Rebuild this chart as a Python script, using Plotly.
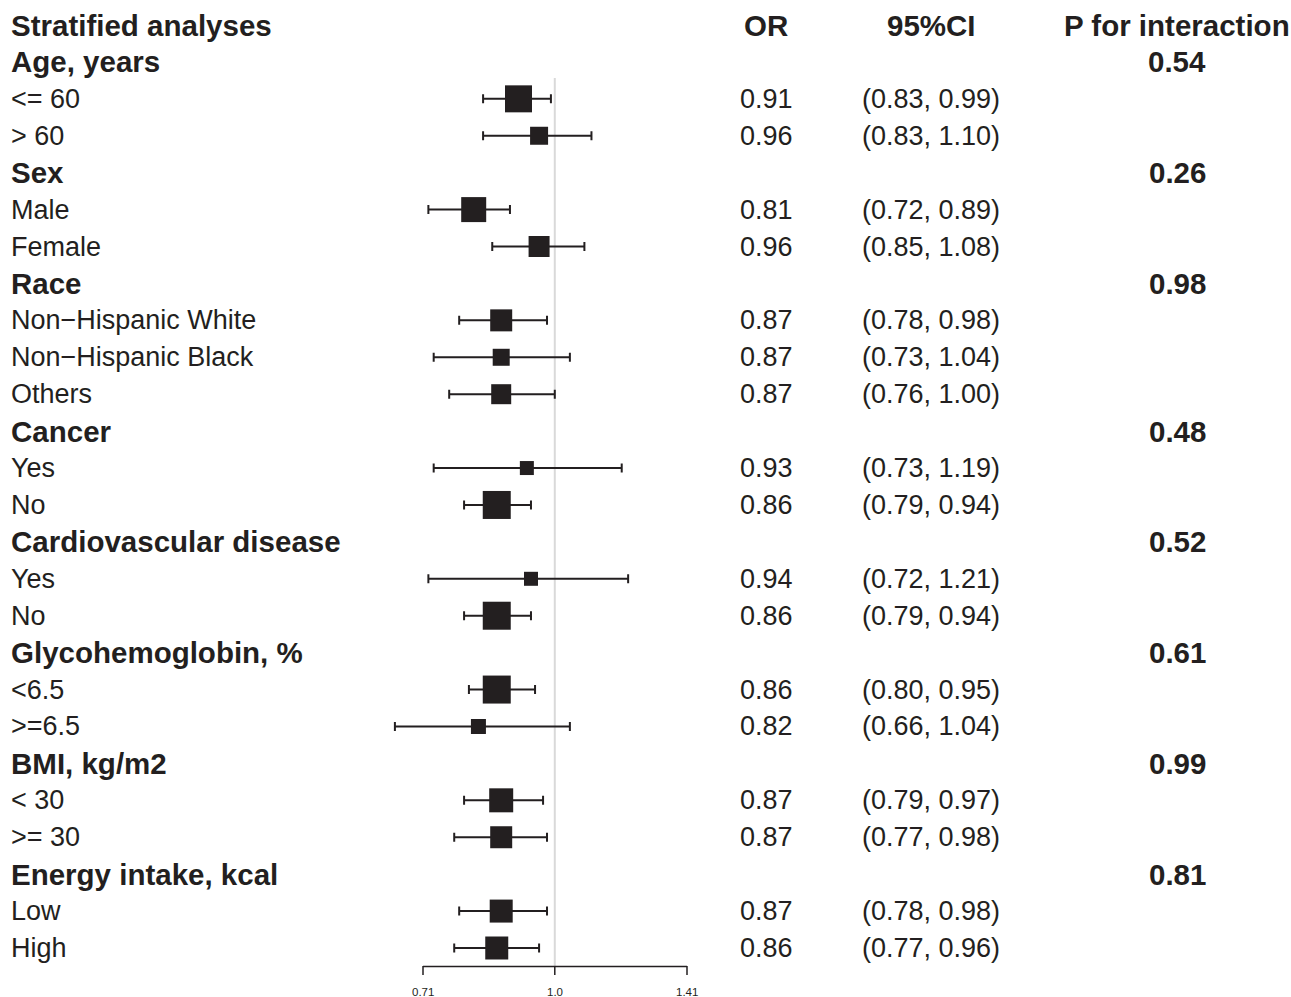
import math
import plotly.graph_objects as go

# ---------------- data ----------------
labels = ["Age, years", "<= 60", "> 60",
          "Sex", "Male", "Female",
          "Race", "Non\u2212Hispanic White", "Non\u2212Hispanic Black", "Others",
          "Cancer", "Yes", "No",
          "Cardiovascular disease", "Yes", "No",
          "Glycohemoglobin, %", "<6.5", ">=6.5",
          "BMI, kg/m2", "< 30", ">= 30",
          "Energy intake, kcal", "Low", "High"]
is_header = [True, False, False,
             True, False, False,
             True, False, False, False,
             True, False, False,
             True, False, False,
             True, False, False,
             True, False, False,
             True, False, False]
or_vals = [None, 0.91, 0.96,
           None, 0.81, 0.96,
           None, 0.87, 0.87, 0.87,
           None, 0.93, 0.86,
           None, 0.94, 0.86,
           None, 0.86, 0.82,
           None, 0.87, 0.87,
           None, 0.87, 0.86]
ci_low = [None, 0.83, 0.83,
          None, 0.72, 0.85,
          None, 0.78, 0.73, 0.76,
          None, 0.73, 0.79,
          None, 0.72, 0.79,
          None, 0.80, 0.66,
          None, 0.79, 0.77,
          None, 0.78, 0.77]
ci_high = [None, 0.99, 1.10,
           None, 0.89, 1.08,
           None, 0.98, 1.04, 1.00,
           None, 1.19, 0.94,
           None, 1.21, 0.94,
           None, 0.95, 1.04,
           None, 0.97, 0.98,
           None, 0.98, 0.96]
weights = [None, 27, 18,
           None, 25, 21,
           None, 22, 17, 20,
           None, 14, 28,
           None, 14, 28,
           None, 28, 15,
           None, 24, 22,
           None, 23, 23]
p_interaction = ["0.54", None, None,
                 "0.26", None, None,
                 "0.98", None, None, None,
                 "0.48", None, None,
                 "0.52", None, None,
                 "0.61", None, None,
                 "0.99", None, None,
                 "0.81", None, None]
col_headers = ["Stratified analyses", "OR", "95%CI", "P for interaction"]
tick_vals = [0.71, 1.0, 1.41]
tick_text = ["0.71", "1.0", "1.41"]

# ---------------- layout helpers ----------------
W, H = 1291, 997
FONT = "Liberation Sans, Arial, Helvetica, sans-serif"
INK = "#231f20"
FS = 27
FS_BOLD = 29.5
ROW0_PX = 25.0       # pixel centre of header row
ROW_STEP = 36.92     # pixels per row
n_rows = len(labels)

y_top = ROW0_PX / ROW_STEP
y_bot = (H - ROW0_PX) / ROW_STEP
y_range = [-y_bot, y_top]

lg_lo, lg_hi = math.log10(tick_vals[0]), math.log10(tick_vals[-1])
px_per = (687 - 423) / (lg_hi - lg_lo)
x_range = [lg_lo - 423 / px_per, lg_hi + (W - 687) / px_per]

def px_x(p):
    return p / W

def px_y(p):
    return 1 - p / H

rows_y = [-(i + 1) for i in range(n_rows)]

idx = [i for i in range(n_rows) if or_vals[i] is not None]
xs = [or_vals[i] for i in idx]
ys = [rows_y[i] for i in idx]
err_plus = [ci_high[i] - or_vals[i] for i in idx]
err_minus = [or_vals[i] - ci_low[i] for i in idx]
sizes = [weights[i] for i in idx]

fig = go.Figure()
fig.add_trace(go.Scatter(
    x=xs, y=ys, mode="markers",
    marker=dict(symbol="square", size=sizes, color=INK, opacity=1, line=dict(width=0)),
    error_x=dict(type="data", symmetric=False, array=err_plus, arrayminus=err_minus,
                 color=INK, thickness=2, width=4.5),
    hoverinfo="skip", showlegend=False,
))

shapes = []
shapes.append(dict(type="line", xref="x", yref="paper", x0=1.0, x1=1.0,
                   y0=px_y(966), y1=px_y(78), line=dict(color="#d9d9d9", width=2),
                   layer="below"))
shapes.append(dict(type="line", xref="x", yref="paper", x0=tick_vals[0], x1=tick_vals[-1],
                   y0=px_y(966.5), y1=px_y(966.5), line=dict(color=INK, width=1.5)))
for tv in tick_vals:
    shapes.append(dict(type="line", xref="x", yref="paper", x0=tv, x1=tv,
                       y0=px_y(966), y1=px_y(975), line=dict(color=INK, width=1.5)))

ann = []
def add_text(text, xpx, yval, anchor, bold=False, yref="y"):
    ann.append(dict(text=f"<b>{text}</b>" if bold else text, xref="paper", yref=yref,
                    x=px_x(xpx), y=yval, xanchor=anchor, yanchor="middle",
                    showarrow=False,
                    font=dict(family=FONT, size=FS_BOLD if bold else FS, color=INK)))

add_text(col_headers[0], 9, 0, "left", bold=True)
add_text(col_headers[1], 766, 0, "center", bold=True)
add_text(col_headers[2], 931, 0, "center", bold=True)
add_text(col_headers[3], 1177, 0, "center", bold=True)

for i in range(n_rows):
    y = rows_y[i]
    add_text(labels[i], 9, y, "left", bold=is_header[i])
    if or_vals[i] is not None:
        add_text(f"{or_vals[i]:.2f}", 766, y, "center")
        add_text(f"({ci_low[i]:.2f}, {ci_high[i]:.2f})", 931, y, "center")
    if p_interaction[i] is not None:
        add_text(p_interaction[i], 1177, y, "center", bold=True)

for tv, tt in zip(tick_vals, tick_text):
    ann.append(dict(text=tt, xref="x", yref="paper", x=math.log10(tv), y=px_y(992),
                    xanchor="center", yanchor="middle", showarrow=False,
                    font=dict(family=FONT, size=11.5, color=INK)))

fig.update_layout(
    width=W, height=H,
    margin=dict(l=0, r=0, t=0, b=0),
    paper_bgcolor="white", plot_bgcolor="white",
    xaxis=dict(type="log", range=x_range, visible=False, fixedrange=True),
    yaxis=dict(range=y_range, visible=False, fixedrange=True),
    shapes=shapes, annotations=ann,
)

fig.write_html("out.html",
               config={"displayModeBar": False, "staticPlot": True},
               post_script="document.body.style.margin='0';document.body.style.overflow='hidden';")
